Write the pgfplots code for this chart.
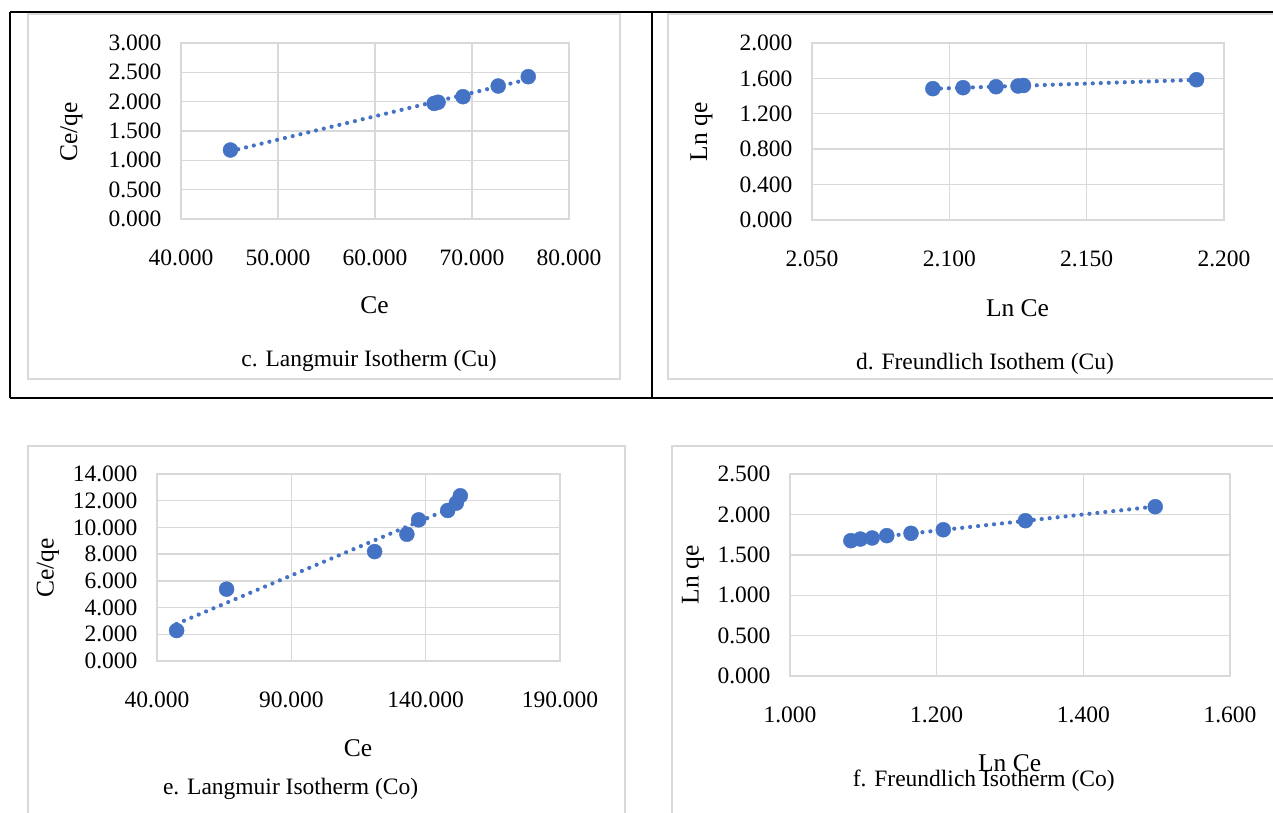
\documentclass[border=0pt]{standalone}
\usepackage{fontspec}
\setmainfont{Liberation Serif}
\usepackage{pgfplots}
\usepackage{pgfplotstable}
\pgfplotsset{compat=1.18}
\definecolor{mk}{HTML}{4472C4}
\definecolor{gr}{HTML}{D9D9D9}

\pgfplotstableread{
x y
45.1 1.176
66.1 1.970
66.5 1.990
69.07 2.085
72.7 2.267
75.8 2.426
}\tc
\pgfplotstableread{
x y
2.094 1.484
2.105 1.495
2.117 1.506
2.125 1.514
2.127 1.520
2.190 1.585
}\td
\pgfplotstableread{
x y
47.3 2.28
65.9 5.38
121.0 8.19
133.0 9.49
137.4 10.57
148.2 11.27
151.4 11.82
152.9 12.37
}\te
\pgfplotstableread{
x y
1.083 1.675
1.096 1.695
1.112 1.708
1.132 1.737
1.165 1.766
1.209 1.810
1.321 1.922
1.498 2.095
}\tf

\pgfplotsset{
 exc/.style={
   scale only axis, anchor=south west,
   axis background/.style={fill=white},
   grid=major, major grid style={draw=gr, line width=1.4pt},
   axis line style={draw=gr, line width=1.4pt},
   major tick length=0pt,
   tick label style={font=\fontsize{23.5}{28}\selectfont},
   xticklabel style={yshift=-27pt},
   yticklabel style={xshift=-16pt},
   /pgf/number format/fixed, /pgf/number format/fixed zerofill,
   /pgf/number format/precision=3, /pgf/number format/1000 sep={},
   /pgf/number format/assume math mode=true,
   clip=false,
 },
 trend/.style={mk, line width=4.2pt, line cap=round, dash pattern=on 0pt off 8pt},
 pts/.style={only marks, mark=*, mark size=7.5pt, mark options={fill=mk, draw=mk}},
}

\begin{document}
\begin{tikzpicture}
\useasboundingbox (0pt,0pt) rectangle (1273pt,812pt);
\fill[white] (0pt,0pt) rectangle (1273pt,812pt);
% chart boxes
\draw[gr, line width=2pt] (28pt,433pt) rectangle (620pt,798pt);
\draw[gr, line width=2pt] (668pt,433pt) rectangle (1290pt,798pt);
\draw[gr, line width=2pt] (28pt,-10pt) rectangle (625pt,366pt);
\draw[gr, line width=2pt] (672pt,-10pt) rectangle (1290pt,366pt);
% table borders
\draw[black, line width=2pt] (10pt,800pt) -- (1290pt,800pt);
\draw[black, line width=2pt] (10pt,414pt) -- (1290pt,414pt);
\draw[black, line width=2pt] (10pt,800pt) -- (10pt,414pt);
\draw[black, line width=2pt] (652pt,800pt) -- (652pt,414pt);

% c
\begin{axis}[exc, at={(181pt,593pt)}, width=388pt, height=176pt,
  xmin=40, xmax=80, xtick={40,50,...,80}, ymin=0, ymax=3, ytick={0,0.5,...,3}]
\addplot[trend] table[x=x, y={create col/linear regression={x=x,y=y}}] \tc;
\addplot[pts] table[x=x,y=y] \tc;
\end{axis}
% d
\begin{axis}[exc, at={(812pt,592pt)}, width=412pt, height=177pt,
  xmin=2.05, xmax=2.2, xtick={2.05,2.1,2.15,2.2}, ymin=0, ymax=2, ytick={0,0.4,...,2.0}]
\addplot[trend] table[x=x, y={create col/linear regression={x=x,y=y}}] \td;
\addplot[pts] table[x=x,y=y] \td;
\end{axis}
% e
\begin{axis}[exc, at={(157pt,151pt)}, width=403pt, height=187pt,
  xmin=40, xmax=190, xtick={40,90,140,190}, ymin=0, ymax=14, ytick={0,2,...,14}]
\addplot[trend] table[x=x, y={create col/linear regression={x=x,y=y}}] \te;
\addplot[pts] table[x=x,y=y] \te;
\end{axis}
% f
\begin{axis}[exc, at={(790pt,136pt)}, width=440pt, height=202pt,
  xmin=1, xmax=1.6, xtick={1,1.2,1.4,1.6}, ymin=0, ymax=2.5, ytick={0,0.5,...,2.5}]
\addplot[trend] table[x=x, y={create col/linear regression={x=x,y=y}}] \tf;
\addplot[pts] table[x=x,y=y] \tf;
\end{axis}

\begin{scope}[every node/.style={font=\fontsize{25.5}{30}\selectfont, inner sep=0pt}]
\node[anchor=base] at (374.6pt,498.7pt) {Ce};
\node[anchor=base] at (1017.5pt,495.3pt) {Ln Ce};
\node[anchor=base] at (358pt,55.3pt) {Ce};
\node[anchor=base] at (1009.6pt,41pt) {Ln Ce};
\node[rotate=90] at (71.5pt,680.3pt) {Ce/qe};
\node[rotate=90] at (701.6pt,680pt) {Ln qe};
\node[rotate=90] at (48pt,244pt) {Ce/qe};
\node[rotate=90] at (693pt,237pt) {Ln qe};
\end{scope}
\begin{scope}[every node/.style={font=\fontsize{23.5}{28}\selectfont, inner sep=0pt, anchor=base}]
\node at (369pt,445pt) {c. Langmuir Isotherm (Cu)};
\node at (985pt,442pt) {d. Freundlich Isothem (Cu)};
\node at (290.6pt,18pt) {e. Langmuir Isotherm (Co)};
\node at (983.7pt,25.3pt) {f. Freundlich Isotherm (Co)};
\end{scope}
\end{tikzpicture}
\end{document}
